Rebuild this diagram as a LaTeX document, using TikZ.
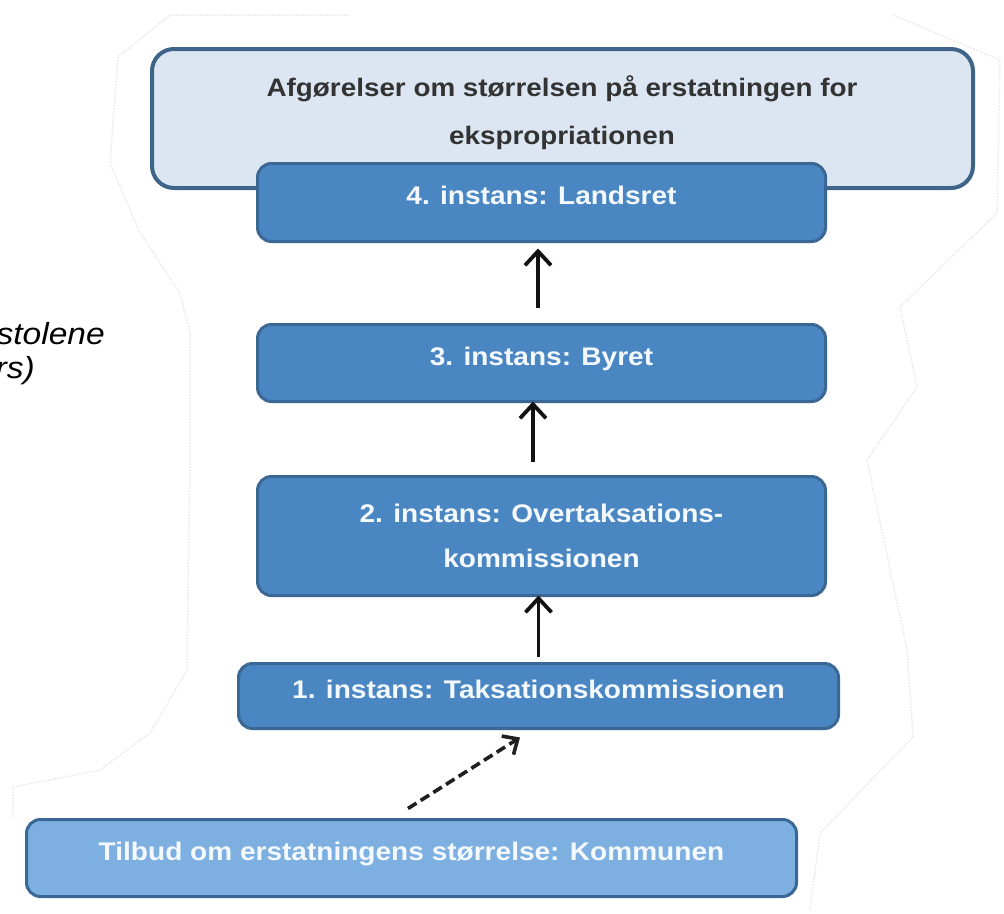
\documentclass[tikz,border=0pt]{standalone}
\usepackage{fontspec}
\setmainfont{Liberation Sans}[FakeStretch=1.1]
\usetikzlibrary{arrows.meta,calc}
\definecolor{topfill}{HTML}{DCE6F2}
\definecolor{topdraw}{HTML}{3F6489}
\definecolor{boxfill}{HTML}{4A87C2}
\definecolor{boxdraw}{HTML}{3A6794}
\definecolor{kfill}{HTML}{7DB0E1}
\definecolor{boxtext}{HTML}{F4F9FF}
\definecolor{toptext}{HTML}{333333}
\definecolor{faint}{HTML}{E9E9E9}
\begin{document}
\begin{tikzpicture}[x=1pt,y=-1pt,
  topbox/.style={draw=topdraw, line width=4pt, fill=topfill, rounded corners=22pt, inner sep=0pt, outer sep=0pt},
  box/.style={draw=boxdraw, line width=3pt, fill=boxfill, rounded corners=14pt, inner sep=0pt, outer sep=0pt,
    text=boxtext, font=\fontsize{25.5}{45}\selectfont\bfseries, align=center, minimum width=568pt},
  oneline/.style={text height=0.75em, text depth=0.3em},
  toptxt/.style={text=toptext, font=\fontsize{25.3}{48}\selectfont\bfseries, align=center, inner sep=0pt},
  sidetxt/.style={anchor=base east, inner sep=0pt, font=\fontsize{30.5}{34}\selectfont\itshape, text=black},
  arr/.style={draw=black!93, line width=3.8pt, -{Straight Barb[length=14pt,width=26pt]}},
  dasharr/.style={draw=black!88, line width=3.6pt, dash pattern=on 10pt off 5pt, -{Straight Barb[length=12pt,width=22pt]}},
  faintline/.style={draw=faint, line width=1.5pt, dash pattern=on 1.5pt off 1.5pt}
]
\useasboundingbox (0,0) rectangle (1004,913);
\fill[white] (0,0) rectangle (1004,913);

% faint background outline
\draw[faintline] (13,817) -- (13,787) -- (100,770) -- (150,733) -- (187,670) -- (188,593) -- (190,460)
  -- (190,333) -- (180,293) -- (140,233) -- (110,163) -- (118,57) -- (170,15) -- (350,15);
\draw[faintline] (893,15) -- (1000,60) -- (997,213) -- (900,307) -- (917,387) -- (867,460)
  -- (907,650) -- (913,737) -- (820,833) -- (810,910);

% side text (cut at the left edge, as in the reference)
\node[sidetxt] (side1) at (105,344) {stolene};
\node[sidetxt] (side2) at (35,378) {rs)};

% top box
\node[topbox, minimum width=821pt, minimum height=139pt] (top) at (562.5,118.5) {};
\node[toptxt] (toptext) at (562,113) {Afgørelser om størrelsen på erstatningen for\\ekspropriationen};

% instance boxes
\node[box, oneline, minimum height=78pt] (L4) at (541.5,202.5) {4. instans: Landsret};
\node[box, oneline, minimum height=77pt] (L3) at (541.5,363) {3. instans: Byret};
\node[box, minimum height=119pt] (L2) at (541.5,536) {2. instans: Overtaksations-\\kommissionen};
\node[box, oneline, minimum width=600pt, minimum height=65pt] (L1) at (538.5,696) {1. instans: Taksationskommissionen};
\node[box, oneline, fill=kfill, minimum width=770pt, minimum height=77pt] (K) at (411.5,858) {Tilbud om erstatningens størrelse: Kommunen};

% connectors
\draw[arr] ($(L3.north)+(-3.5,-17)$) -- ($(L4.south)+(-3.5,7)$);
\draw[arr] ($(L2.north)+(-8.5,-15)$) -- ($(L3.south)+(-8.5,0)$);
\draw[arr] ($(L1.north)+(0,-7)$) -- (L1.north |- L2.south);
\draw[dasharr] ($(K.north)+(-3.5,-11)$) -- ($(L1.south)+(-18.5,9)$);
\end{tikzpicture}
\end{document}
